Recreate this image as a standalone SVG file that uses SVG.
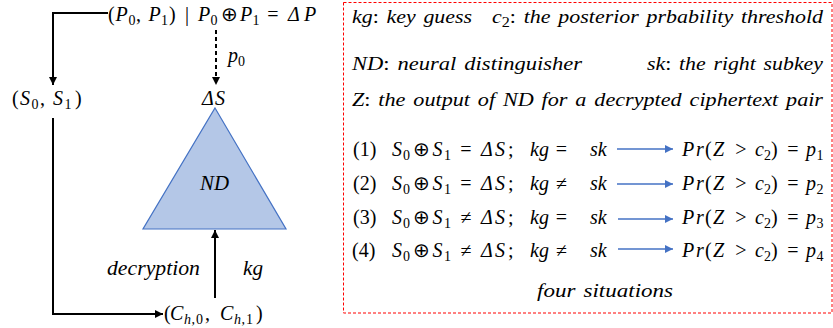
<svg xmlns="http://www.w3.org/2000/svg" width="833" height="328" viewBox="0 0 833 328">
<style>
.t { font-family: "Liberation Serif", "Times New Roman", serif; font-size: 20px; fill: #000; }
.l { font-size: 19px; word-spacing: 2px; }
.i { font-style: italic; }
.n { font-style: normal; }
.s { font-size: 14px; }
.c { text-anchor: middle; }
.k { fill: none; stroke: #000; stroke-width: 2; }
.b { fill: none; stroke: #4472c4; stroke-width: 1.5; }
</style>
<defs>
<marker id="ah" viewBox="0 0 10 10" refX="10" refY="5" markerWidth="9" markerHeight="8" markerUnits="userSpaceOnUse" orient="auto">
<path d="M0,0 L10,5 L0,10 z" fill="#000"/>
</marker>
<marker id="bh" viewBox="0 0 10 10" refX="10" refY="5" markerWidth="9" markerHeight="8" markerUnits="userSpaceOnUse" orient="auto">
<path d="M0,0 L10,5 L0,10 z" fill="#4472c4"/>
</marker>
</defs>

<g id="connectors">
<path class="k" d="M108,13 H53 V85" marker-end="url(#ah)"/>
<path class="k" d="M216,30 V85" stroke-dasharray="4,3" marker-end="url(#ah)"/>
<path class="k" d="M53,118 V314 H163" marker-end="url(#ah)"/>
<path class="k" d="M215,298 V230" marker-end="url(#ah)"/>
</g>

<g id="plaintext">
<text class="t" y="21"><tspan x="108">(</tspan><tspan x="115.5" class="i">P</tspan><tspan x="128.5" y="25" class="s">0</tspan><tspan x="136" y="21">,</tspan><tspan x="148.5" class="i">P</tspan><tspan x="161" y="25" class="s">1</tspan><tspan x="169" y="21">)</tspan><tspan x="187" class="c">|</tspan><tspan x="198" class="i">P</tspan><tspan x="210.5" y="25" class="s">0</tspan><tspan x="229.5" y="21" class="c">⊕</tspan><tspan x="240" class="i">P</tspan><tspan x="252.5" y="25" class="s">1</tspan><tspan x="273" y="21" class="c">=</tspan><tspan x="288" class="i">Δ</tspan><tspan x="304" class="i">P</tspan></text>
</g>
<g id="p0label"><text class="t" y="62"><tspan x="228" class="i">p</tspan><tspan x="238" y="66" class="s">0</tspan></text></g>
<g id="s-pair"><text class="t" y="105"><tspan x="12">(</tspan><tspan x="20" class="i">S</tspan><tspan x="31.5" y="109" class="s">0</tspan><tspan x="40" y="105">,</tspan><tspan x="53" class="i">S</tspan><tspan x="64.5" y="109" class="s">1</tspan><tspan x="75" y="105">)</tspan></text></g>
<g id="deltaS"><text class="t i" y="105"><tspan x="202">Δ</tspan><tspan x="215">S</tspan></text></g>
<g id="nd">
<path d="M215,108 L286,229 L143,229 Z" fill="#b4c7e7" stroke="#4472c4" stroke-width="1.2"/>
<text class="t i" x="200" y="190" textLength="29" lengthAdjust="spacingAndGlyphs">ND</text>
</g>
<g id="labels">
<text class="t i" x="107" y="275" textLength="93" lengthAdjust="spacingAndGlyphs">decryption</text>
<text class="t i" x="243" y="275" textLength="20" lengthAdjust="spacingAndGlyphs">kg</text>
</g>
<g id="c-pair"><text class="t" y="320"><tspan x="164">(</tspan><tspan x="170" class="i">C</tspan><tspan x="184" y="324" class="s i">h</tspan><tspan x="191.5" class="s">,</tspan><tspan x="196" class="s">0</tspan><tspan x="205" y="320">,</tspan><tspan x="220" class="i">C</tspan><tspan x="234" y="324" class="s i">h</tspan><tspan x="241.5" class="s">,</tspan><tspan x="246" class="s">1</tspan><tspan x="256" y="320">)</tspan></text></g>

<g id="legend">
<rect x="343.5" y="2.5" width="488.5" height="310.5" fill="none" stroke="#ff0000" stroke-width="1" stroke-dasharray="3,2"/>
<text class="t l i" x="352" y="23" textLength="120" lengthAdjust="spacingAndGlyphs">kg<tspan class="n">:</tspan> key guess</text>
<text class="t l i" x="492" y="23" textLength="331" lengthAdjust="spacingAndGlyphs">c<tspan class="s n" dy="4">2</tspan><tspan class="n" dy="-4">:</tspan> the posterior prbability threshold</text>
<text class="t l i" x="352" y="70" textLength="230" lengthAdjust="spacingAndGlyphs">ND<tspan class="n">:</tspan> neural distinguisher</text>
<text class="t l i" x="647" y="70" textLength="176" lengthAdjust="spacingAndGlyphs">sk<tspan class="n">:</tspan> the right subkey</text>
<text class="t l i" x="352" y="106" textLength="471" lengthAdjust="spacingAndGlyphs">Z<tspan class="n">:</tspan>  the output of ND for a decrypted ciphertext pair</text>

<text class="t" y="156"><tspan x="353">(1)</tspan><tspan x="392" class="i">S</tspan><tspan x="403" y="160" class="s">0</tspan><tspan x="421.5" y="156" class="c">⊕</tspan><tspan x="432.5" class="i">S</tspan><tspan x="444" y="160" class="s">1</tspan><tspan x="466" y="156" class="c">=</tspan><tspan x="481" class="i">Δ</tspan><tspan x="495" class="i">S</tspan><tspan x="508">;</tspan><tspan x="530" class="i">kg</tspan><tspan x="561.5" class="c">=</tspan><tspan x="590" class="i">sk</tspan></text>
<line class="b" x1="617" y1="149" x2="673" y2="149" marker-end="url(#bh)"/>
<text class="t" y="156"><tspan x="682" class="i">P</tspan><tspan x="696" class="i">r</tspan><tspan x="705">(</tspan><tspan x="713" class="i">Z</tspan><tspan x="741" class="c">&gt;</tspan><tspan x="755" class="i">c</tspan><tspan x="764" y="160" class="s">2</tspan><tspan x="771" y="156">)</tspan><tspan x="793" class="c">=</tspan><tspan x="806" class="i">p</tspan><tspan x="816.5" y="160" class="s">1</tspan></text>

<text class="t" y="190"><tspan x="353">(2)</tspan><tspan x="392" class="i">S</tspan><tspan x="403" y="194" class="s">0</tspan><tspan x="421.5" y="190" class="c">⊕</tspan><tspan x="432.5" class="i">S</tspan><tspan x="444" y="194" class="s">1</tspan><tspan x="466" y="190" class="c">=</tspan><tspan x="481" class="i">Δ</tspan><tspan x="495" class="i">S</tspan><tspan x="508">;</tspan><tspan x="530" class="i">kg</tspan><tspan x="561.5" class="c">≠</tspan><tspan x="590" class="i">sk</tspan></text>
<line class="b" x1="617" y1="184" x2="673" y2="184" marker-end="url(#bh)"/>
<text class="t" y="190"><tspan x="682" class="i">P</tspan><tspan x="696" class="i">r</tspan><tspan x="705">(</tspan><tspan x="713" class="i">Z</tspan><tspan x="741" class="c">&gt;</tspan><tspan x="755" class="i">c</tspan><tspan x="764" y="194" class="s">2</tspan><tspan x="771" y="190">)</tspan><tspan x="793" class="c">=</tspan><tspan x="806" class="i">p</tspan><tspan x="816.5" y="194" class="s">2</tspan></text>

<text class="t" y="224"><tspan x="353">(3)</tspan><tspan x="392" class="i">S</tspan><tspan x="403" y="228" class="s">0</tspan><tspan x="421.5" y="224" class="c">⊕</tspan><tspan x="432.5" class="i">S</tspan><tspan x="444" y="228" class="s">1</tspan><tspan x="466" y="224" class="c">≠</tspan><tspan x="481" class="i">Δ</tspan><tspan x="495" class="i">S</tspan><tspan x="508">;</tspan><tspan x="530" class="i">kg</tspan><tspan x="561.5" class="c">=</tspan><tspan x="590" class="i">sk</tspan></text>
<line class="b" x1="618" y1="219" x2="673" y2="219" marker-end="url(#bh)"/>
<text class="t" y="224"><tspan x="682" class="i">P</tspan><tspan x="696" class="i">r</tspan><tspan x="705">(</tspan><tspan x="713" class="i">Z</tspan><tspan x="741" class="c">&gt;</tspan><tspan x="755" class="i">c</tspan><tspan x="764" y="228" class="s">2</tspan><tspan x="771" y="224">)</tspan><tspan x="793" class="c">=</tspan><tspan x="806" class="i">p</tspan><tspan x="816.5" y="228" class="s">3</tspan></text>

<text class="t" y="257"><tspan x="352">(4)</tspan><tspan x="392" class="i">S</tspan><tspan x="403" y="261" class="s">0</tspan><tspan x="421.5" y="257" class="c">⊕</tspan><tspan x="432.5" class="i">S</tspan><tspan x="444" y="261" class="s">1</tspan><tspan x="466" y="257" class="c">≠</tspan><tspan x="481" class="i">Δ</tspan><tspan x="495" class="i">S</tspan><tspan x="508">;</tspan><tspan x="530" class="i">kg</tspan><tspan x="561.5" class="c">≠</tspan><tspan x="590" class="i">sk</tspan></text>
<line class="b" x1="618" y1="249" x2="673" y2="249" marker-end="url(#bh)"/>
<text class="t" y="257"><tspan x="682" class="i">P</tspan><tspan x="696" class="i">r</tspan><tspan x="705">(</tspan><tspan x="713" class="i">Z</tspan><tspan x="741" class="c">&gt;</tspan><tspan x="755" class="i">c</tspan><tspan x="764" y="261" class="s">2</tspan><tspan x="771" y="257">)</tspan><tspan x="793" class="c">=</tspan><tspan x="806" class="i">p</tspan><tspan x="816.5" y="261" class="s">4</tspan></text>

<text class="t l i" x="537" y="297" textLength="136" lengthAdjust="spacingAndGlyphs">four situations</text>
</g>
</svg>
